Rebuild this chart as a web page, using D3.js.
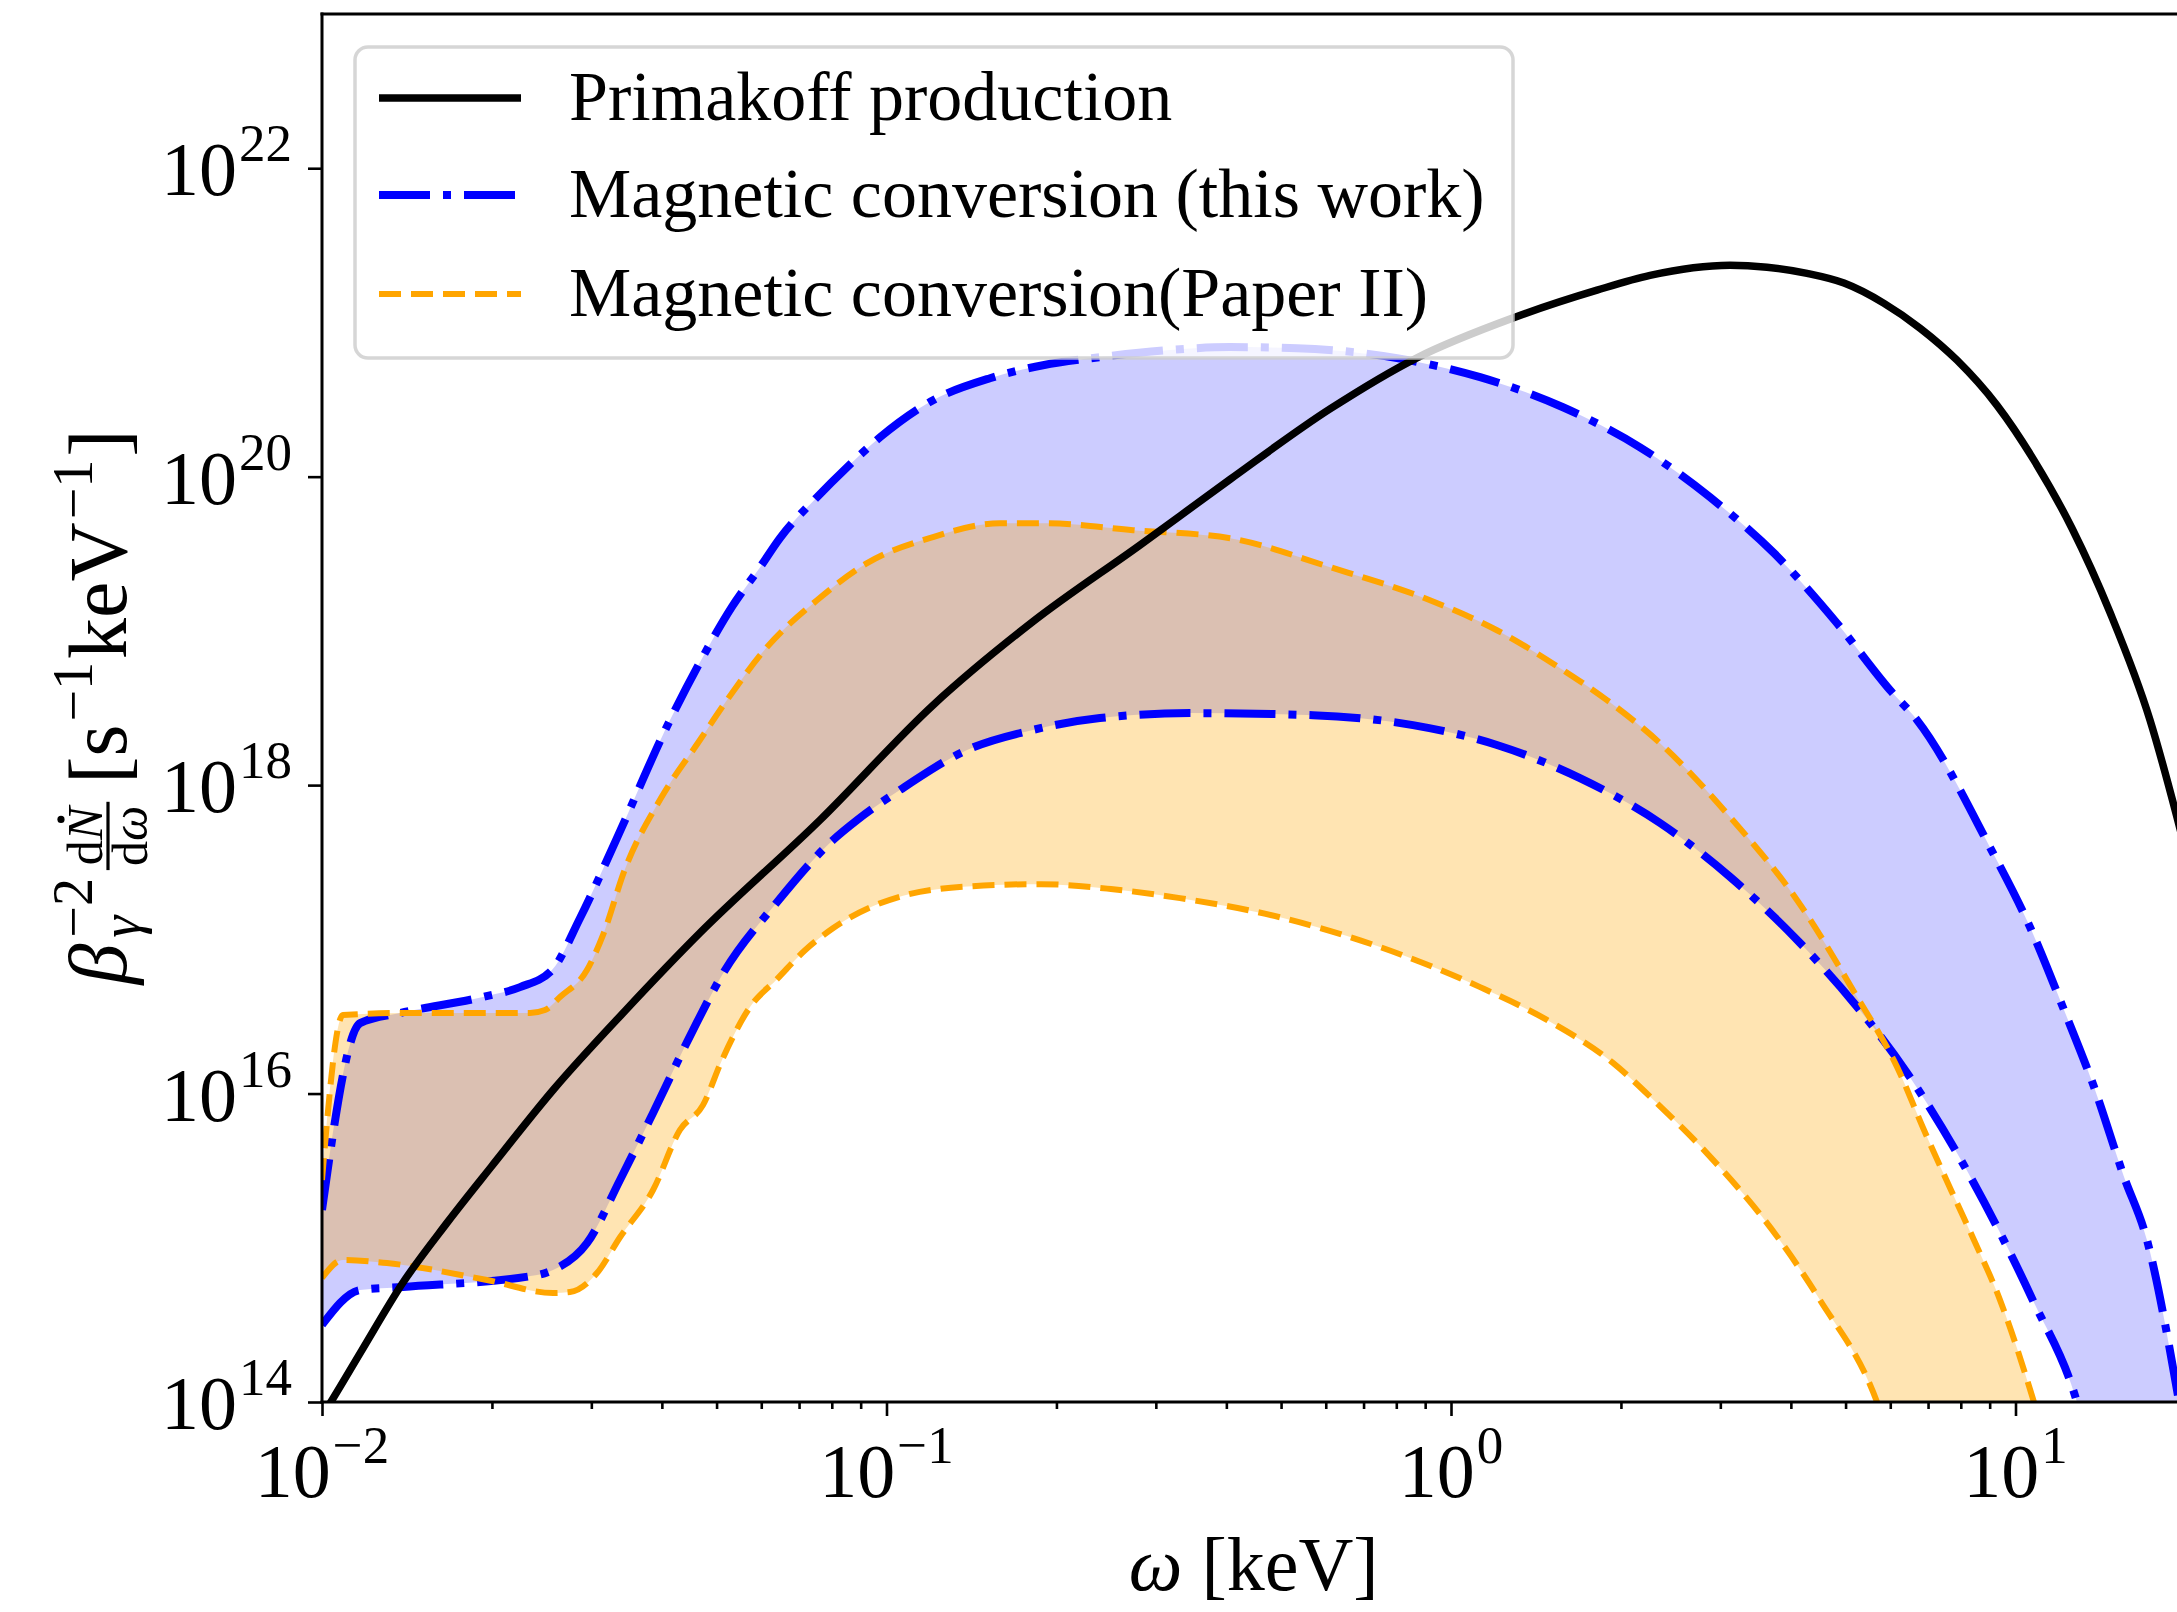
<!DOCTYPE html>
<html>
<head>
<meta charset="utf-8">
<script src="https://cdn.jsdelivr.net/npm/d3@7"></script>
<style>
  body { margin: 0; background: #fff; }
  svg { display: block; }
</style>
</head>
<body>
<div id="chart"></div>
<script>
// ---------------------------------------------------------------
// Spectra: photon energy omega [keV] and beta^-2 dN/domega [1/s/keV]
// ---------------------------------------------------------------
const primakoffOmega = [0.01, 0.01042, 0.01177, 0.01386, 0.01665, 0.01993, 0.02576, 0.03441, 0.04672, 0.07622,
  0.1209, 0.1818, 0.2812, 0.4061, 0.6105, 0.8705, 1.288, 1.814, 2.252, 3.121, 3.629, 4.273, 4.968, 5.849,
  6.775, 7.877, 9.274, 10.78, 12.59, 14.70, 17.31, 19.32, 20];
const primakoffRate = [8.1e13, 1.03e14, 2.17e14, 5.82e14, 1.45e15, 3.34e15, 1.07e16, 3.43e16, 1.10e17, 5.93e17,
  3.3e18, 1.15e19, 3.6e19, 9.6e19, 2.75e20, 5.9e20, 1.07e21, 1.62e21, 2.02e21, 2.35e21, 2.28e21, 2.08e21,
  1.80e21, 1.33e21, 9.18e20, 5.69e20, 2.90e20, 1.28e20, 4.63e19, 1.32e19, 2.64e18, 6.21e17, 3.8e17];

// Magnetic conversion (this work): upper and lower edge of the band
const thisUpperOmega = [0.01, 0.01168, 0.01375, 0.01928, 0.02243, 0.02555, 0.02864, 0.03318, 0.04135, 0.04672,
  0.05323, 0.05971, 0.06476, 0.07530, 0.08511, 0.09738, 0.1209, 0.1525, 0.1893, 0.2388, 0.3139, 0.4061,
  0.5335, 0.8024, 1.126, 1.579, 2.162, 2.876, 3.735, 4.829, 5.995, 6.693, 9.01, 10.61, 12.19, 13.78,
  15.57, 17.10, 19.32, 20];
const thisUpperRate = [1.76e15, 2.86e16, 3.33e16, 4.23e16, 4.90e16, 6.32e16, 1.37e17, 4.40e17, 2.64e18, 6.27e18,
  1.43e19, 2.59e19, 4.0e19, 7.36e19, 1.15e20, 1.80e20, 3.13e20, 4.35e20, 5.28e20, 5.96e20, 6.61e20, 6.92e20,
  6.81e20, 5.87e20, 4.42e20, 2.82e20, 1.55e20, 7.36e19, 3.19e19, 1.12e19, 4.13e18, 2.64e18, 3.96e17, 1.20e17,
  3.48e16, 1.10e16, 2.88e15, 1.12e15, 1.20e14, 5.7e13];
const thisLowerOmega = [0.01, 0.01168, 0.01391, 0.02404, 0.02566, 0.02947, 0.03372, 0.03859, 0.04542, 0.05112,
  0.06397, 0.08037, 0.08868, 0.1056, 0.1389, 0.1818, 0.2388, 0.3448, 0.5693, 0.8563, 1.206, 1.692, 2.346,
  3.121, 4.051, 5.175, 6.426, 7.877, 9.389, 10.73, 12.85, 13.55];
const thisLowerRate = [3.16e14, 5.32e14, 5.57e14, 6.65e14, 7.18e14, 1.07e15, 2.75e15, 7.48e15, 2.58e16, 5.86e16,
  1.74e17, 4.40e17, 5.93e17, 9.29e17, 1.69e18, 2.28e18, 2.72e18, 2.93e18, 2.84e18, 2.45e18, 1.82e18, 1.11e18,
  5.68e17, 2.54e17, 1.04e17, 3.86e16, 1.36e16, 4.11e15, 1.25e15, 4.58e14, 1.0e14, 4.9e13];

// Magnetic conversion (Paper II): upper and lower edge of the band
const paperUpperOmega = [0.01, 0.01089, 0.01391, 0.02336, 0.02483, 0.02640, 0.02947, 0.03147, 0.03441, 0.03986,
  0.04672, 0.05217, 0.06141, 0.07530, 0.09237, 0.1209, 0.1589, 0.1924, 0.2733, 0.4061, 0.6105, 0.9179, 1.206,
  1.579, 1.889, 2.346, 3.121, 4.101, 5.240, 6.168, 6.885, 7.877, 8.445, 9.389, 10.78, 11.28];
const paperUpperRate = [2.75e15, 3.23e16, 3.33e16, 3.33e16, 3.48e16, 4.23e16, 6.32e16, 1.07e17, 2.85e17, 8.24e17,
  1.96e18, 3.56e18, 7.85e18, 1.58e19, 2.75e19, 4.06e19, 4.99e19, 4.99e19, 4.50e19, 3.99e19, 2.59e19, 1.58e19,
  1.01e19, 5.57e18, 3.56e18, 1.87e18, 6.21e17, 1.80e17, 4.23e16, 1.49e16, 5.80e15, 1.95e15, 1.12e15, 4.58e14,
  1.0e14, 5.7e13];
const paperLowerOmega = [0.01, 0.01089, 0.01303, 0.01960, 0.02566, 0.02750, 0.03070, 0.03372, 0.03859, 0.04305,
  0.04730, 0.05112, 0.05731, 0.06397, 0.07172, 0.08037, 0.1066, 0.1417, 0.1878, 0.2498, 0.3311, 0.4980, 0.7487,
  1.126, 1.479, 1.936, 2.315, 2.839, 3.823, 4.505, 5.684, 5.995];
const paperLowerRate = [6.37e14, 8.34e14, 7.96e14, 6.18e14, 5.09e14, 5.16e14, 6.86e14, 1.17e15, 2.37e15, 5.80e15,
  8.41e15, 1.65e16, 3.64e16, 5.52e16, 8.5e16, 1.18e17, 1.91e17, 2.21e17, 2.28e17, 2.12e17, 1.85e17, 1.39e17,
  8.91e16, 4.90e16, 3.00e16, 1.58e16, 8.67e15, 4.11e15, 1.12e15, 4.58e14, 1.0e14, 5.7e13];

// Axis ticks and legend
const xMajorTicks = [0.01, 0.1, 1, 10];
const xTickExponents = ["\u22122", "\u22121", "0", "1"];
const yMajorTicks = [1e14, 1e16, 1e18, 1e20, 1e22];
const yTickExponents = ["14", "16", "18", "20", "22"];
const legendLabels = ["Primakoff production", "Magnetic conversion (this work)", "Magnetic conversion(Paper II)"];

// ---------------------------------------------------------------
const W = 2177, H = 1612;
const FONT = '"Liberation Serif", "DejaVu Serif", serif';
const plotLeft = 322, plotTop = 14, plotBottom = 1402;
const plotRight = plotLeft + 564.5 * Math.log10(2000);

const svg = d3.select("#chart").append("svg")
  .attr("width", W).attr("height", H)
  .attr("viewBox", `0 0 ${W} ${H}`)
  .style("font-family", FONT);

const x = d3.scaleLog().domain([0.01, 20]).range([plotLeft, plotRight]);
const y = d3.scaleLog().domain([1e14, 1e23]).range([plotBottom, plotTop]);

svg.append("defs").append("clipPath").attr("id", "plot-clip")
  .append("rect").attr("x", plotLeft).attr("y", plotTop)
  .attr("width", plotRight - plotLeft).attr("height", plotBottom - plotTop);

const zip = (xs, ys) => xs.map((v, i) => [v, ys[i]]);
const primakoff = zip(primakoffOmega, primakoffRate);
const thisUpper = zip(thisUpperOmega, thisUpperRate);
const thisLower = zip(thisLowerOmega, thisLowerRate);
const paperUpper = zip(paperUpperOmega, paperUpperRate);
const paperLower = zip(paperLowerOmega, paperLowerRate);

const line = d3.line()
  .x(d => x(d[0])).y(d => y(d[1]))
  .curve(d3.curveMonotoneX);

// closed band outline: upper edge forward, lower edge backward
function bandPath(upper, lower) {
  const a = line(upper);
  const b = line(lower.slice().reverse());
  return a + "L" + b.slice(1) + "Z";
}

const plot = svg.append("g").attr("clip-path", "url(#plot-clip)");

plot.append("path").attr("d", bandPath(thisUpper, thisLower))
  .attr("fill", "blue").attr("fill-opacity", 0.2).attr("stroke", "none");
plot.append("path").attr("d", bandPath(paperUpper, paperLower))
  .attr("fill", "orange").attr("fill-opacity", 0.3).attr("stroke", "none");

const blueStyle = { color: "blue", width: 8, dash: "51,13,8,13" };
const orangeStyle = { color: "orange", width: 6, dash: "22,10" };
const blackStyle = { color: "black", width: 7.5, dash: null };

function drawCurve(data, st) {
  plot.append("path").attr("d", line(data))
    .attr("fill", "none").attr("stroke", st.color)
    .attr("stroke-width", st.width)
    .attr("stroke-dasharray", st.dash)
    .attr("stroke-linejoin", "round");
}
drawCurve(thisUpper, blueStyle);
drawCurve(thisLower, blueStyle);
drawCurve(paperUpper, orangeStyle);
drawCurve(paperLower, orangeStyle);
drawCurve(primakoff, blackStyle);

// ---------------- axes ----------------
const xMinor = x.ticks(40).filter(v => !xMajorTicks.some(m => Math.abs(m - v) / m < 1e-6));
const xAxisG = svg.append("g").attr("transform", `translate(0,${plotBottom})`);
xAxisG.append("g").call(d3.axisBottom(x).tickValues(xMajorTicks).tickSize(14).tickSizeOuter(0).tickFormat(() => ""));
xAxisG.append("g").call(d3.axisBottom(x).tickValues(xMinor).tickSize(7).tickSizeOuter(0).tickFormat(() => ""));
xAxisG.selectAll(".domain").remove();
xAxisG.selectAll(".tick line").attr("stroke", "#000").attr("stroke-width", 2.6);

const yAxisG = svg.append("g").attr("transform", `translate(${plotLeft},0)`);
yAxisG.call(d3.axisLeft(y).tickValues(yMajorTicks).tickSize(14).tickSizeOuter(0).tickFormat(() => ""));
yAxisG.selectAll(".domain").remove();
yAxisG.selectAll(".tick line").attr("stroke", "#000").attr("stroke-width", 2.6);

// spines (right spine lies past the canvas edge)
const spines = svg.append("g").attr("stroke", "#000").attr("stroke-width", 3).attr("fill", "none");
spines.append("line").attr("x1", plotLeft).attr("x2", plotLeft).attr("y1", plotTop - 1.5).attr("y2", plotBottom + 1.5);
spines.append("line").attr("x1", plotLeft - 1.5).attr("x2", plotRight + 1.5).attr("y1", plotBottom).attr("y2", plotBottom);
spines.append("line").attr("x1", plotLeft - 1.5).attr("x2", plotRight + 1.5).attr("y1", plotTop).attr("y2", plotTop);
spines.append("line").attr("x1", plotRight).attr("x2", plotRight).attr("y1", plotTop).attr("y2", plotBottom);

const TICK_FS = 76, SUP_FS = 53;

function powerLabel(g, exp) {
  g.append("tspan").text("10");
  g.append("tspan").attr("font-size", SUP_FS).attr("dx", 2).attr("dy", -34).text(exp);
}

xMajorTicks.forEach((v, i) => {
  const t = svg.append("text")
    .attr("x", x(v)).attr("y", 1497)
    .attr("text-anchor", "middle")
    .attr("font-size", TICK_FS);
  powerLabel(t, xTickExponents[i]);
});

yMajorTicks.forEach((v, i) => {
  const t = svg.append("text")
    .attr("x", 292).attr("y", y(v) + 27)
    .attr("text-anchor", "end")
    .attr("font-size", TICK_FS);
  powerLabel(t, yTickExponents[i]);
});

// x-axis title
const xt = svg.append("text")
  .attr("x", (plotLeft + plotRight) / 2).attr("y", 1590)
  .attr("text-anchor", "middle").attr("font-size", 76);
xt.append("tspan").attr("font-style", "italic").text("\u03c9");
xt.append("tspan").text(" [keV]");

// y-axis title: beta_gamma^-2 dN/domega [s^-1 keV^-1], built piece by piece
(function yTitle() {
  const g = svg.append("g").attr("transform", "translate(126, 707) rotate(-90)");
  const inner = g.append("g");
  const MAIN = 82, SMALL = 56, FRAC = 50;
  let cx = 0;
  function put(txt, fs, yy, italic, xx) {
    const t = inner.append("text")
      .attr("x", xx).attr("y", yy).attr("font-size", fs)
      .attr("font-style", italic ? "italic" : "normal").text(txt);
    return t.node().getComputedTextLength();
  }
  function measure(txt, fs, italic) {
    const t = inner.append("text").attr("font-size", fs)
      .attr("font-style", italic ? "italic" : "normal").text(txt);
    const w = t.node().getComputedTextLength();
    t.remove();
    return w;
  }
  // beta with stacked super/subscript
  cx += put("\u03b2", MAIN, 0, true, cx) + 6;
  const wSup = put("\u22122", SMALL, -34, false, cx);
  const wSub = put("\u03b3", SMALL, 14, true, cx);
  cx += Math.max(wSup, wSub) + 8;
  // fraction dN(dot)/domega
  const axisY = -18;
  const numY = axisY - 6, denY = axisY + 5 + 34;
  const wd = measure("d", FRAC, false);
  const wN = measure("N", FRAC, true);
  const wOm = measure("\u03c9", FRAC, true);
  const numW = wd + wN, denW = wd + wOm;
  const fw = Math.max(numW, denW) + 8;
  const nx = cx + (fw - numW) / 2;
  put("d", FRAC, numY, false, nx);
  put("N", FRAC, numY, true, nx + wd);
  inner.append("circle").attr("cx", nx + wd + wN * 0.62).attr("cy", numY - 41).attr("r", 3.6).attr("fill", "#000");
  const dx0 = cx + (fw - denW) / 2;
  put("d", FRAC, denY, false, dx0);
  put("\u03c9", FRAC, denY, true, dx0 + wd);
  inner.append("rect").attr("x", cx).attr("y", axisY - 1.6).attr("width", fw).attr("height", 3.2).attr("fill", "#000");
  cx += fw + 18;
  // units
  cx += put("[s", MAIN, 0, false, cx) + 3;
  cx += put("\u22121", SMALL, -34, false, cx) + 3;
  cx += put("keV", MAIN, 0, false, cx) + 3;
  cx += put("\u22121", SMALL, -34, false, cx) + 3;
  cx += put("]", MAIN, 0, false, cx);
  inner.attr("transform", `translate(${-cx / 2},0)`);
})();

// ---------------- legend ----------------
const leg = svg.append("g");
leg.append("rect")
  .attr("x", 355).attr("y", 47).attr("width", 1158).attr("height", 311)
  .attr("rx", 13).attr("ry", 13)
  .attr("fill", "#fff").attr("fill-opacity", 0.8)
  .attr("stroke", "#ccc").attr("stroke-opacity", 0.8).attr("stroke-width", 3.5);
const legendStyles = [blackStyle, blueStyle, orangeStyle];
const rowY = [98, 195, 294];
legendLabels.forEach((lab, i) => {
  const st = legendStyles[i];
  leg.append("line")
    .attr("x1", 379).attr("x2", 521).attr("y1", rowY[i]).attr("y2", rowY[i])
    .attr("stroke", st.color).attr("stroke-width", st.width)
    .attr("stroke-dasharray", st.dash);
  leg.append("text")
    .attr("x", 569).attr("y", rowY[i] + 22)
    .attr("font-size", 70).text(lab);
});
</script>
</body>
</html>
